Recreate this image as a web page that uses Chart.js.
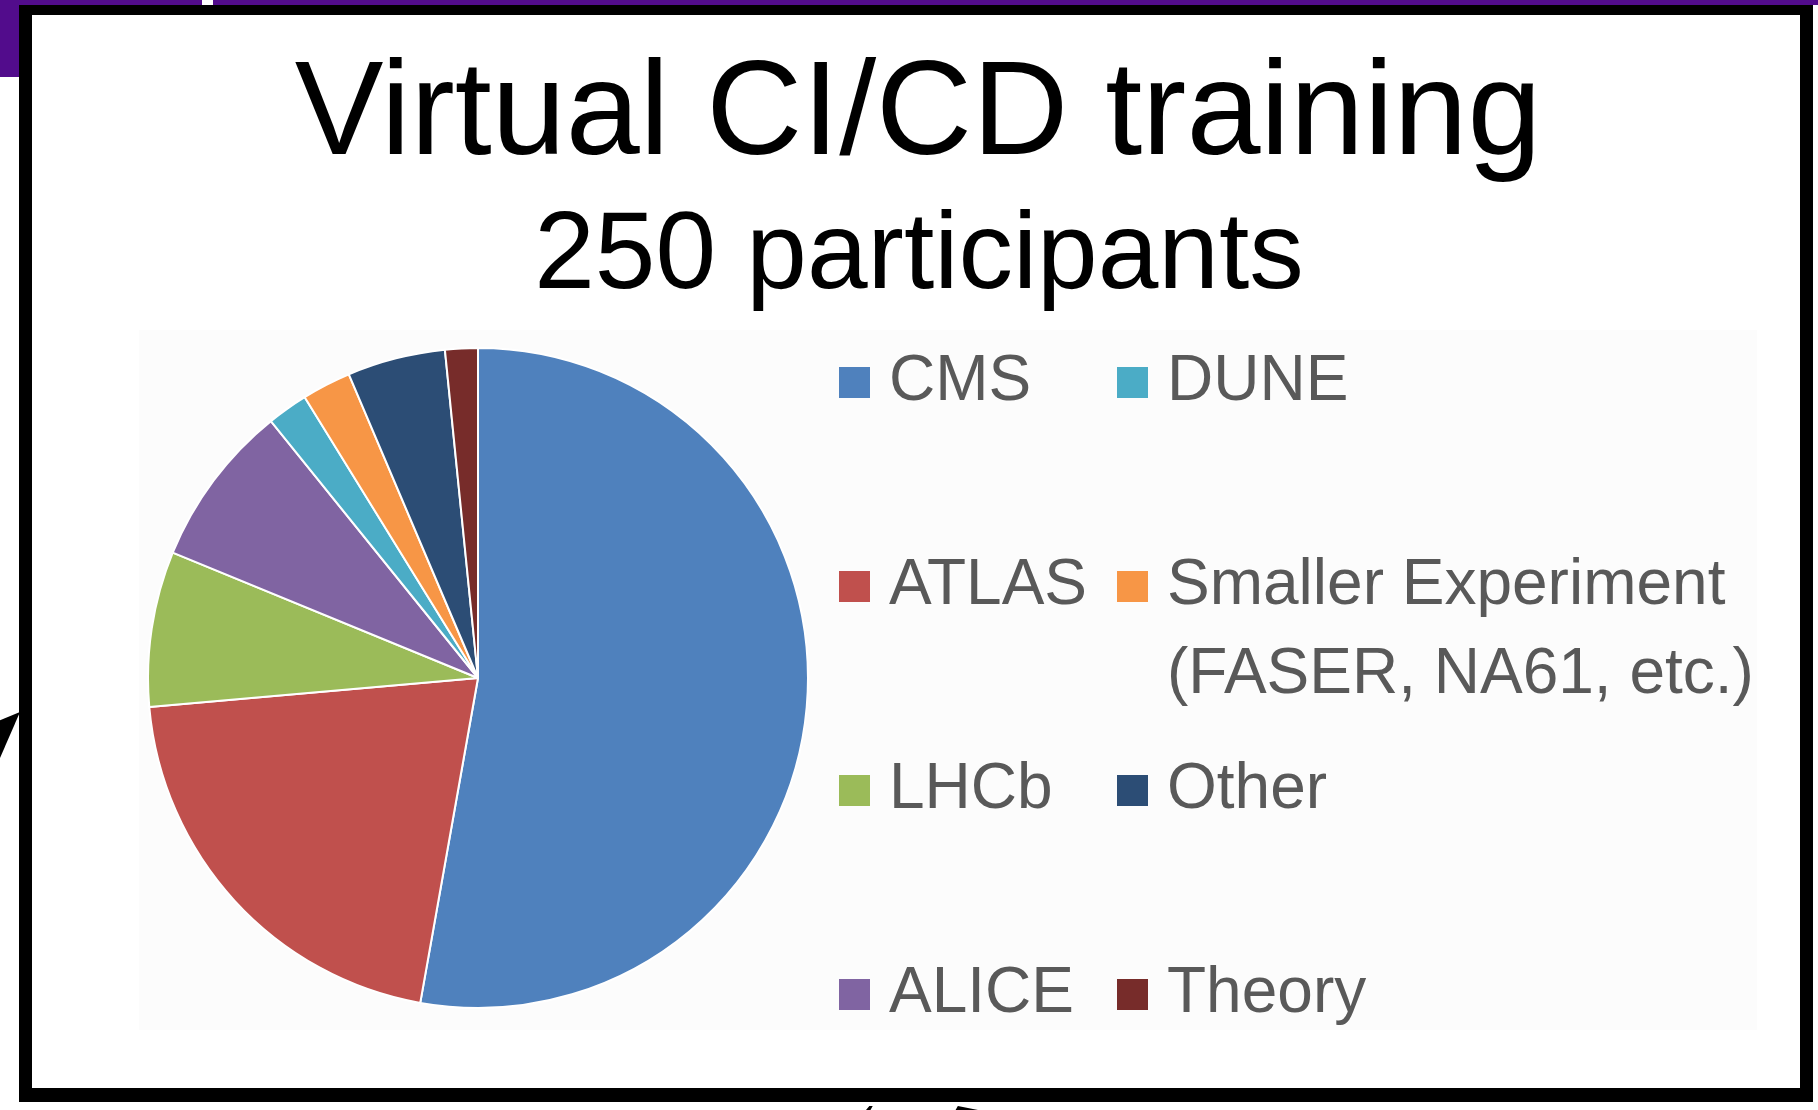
<!DOCTYPE html>
<html>
<head>
<meta charset="utf-8">
<script src="https://cdn.jsdelivr.net/npm/chart.js@4.4.1/dist/chart.umd.min.js"></script>
<style>
    html, body { margin: 0; padding: 0; }
    body {
        width: 1818px;
        height: 1110px;
        position: relative;
        overflow: hidden;
        background: #fff;
        font-family: 'Liberation Sans', Arial, sans-serif;
    }
    .purpleTop { position: absolute; left: 0; top: 0; width: 1818px; height: 5px; background: #520c8c; }
    .purpleGap { position: absolute; left: 202px; top: 0; width: 11px; height: 5px; background: #fff; }
    .purpleSide { position: absolute; left: 0; top: 0; width: 20px; height: 77px; background: #520c8c; }
    .frame {
        position: absolute;
        left: 19px; top: 5px;
        width: 1768px; height: 1073px;
        border-style: solid;
        border-color: #000;
        border-width: 10px 13px 14px 13px;
        background: #fff;
    }
    .arrowLeft {
        position: absolute; left: 0; top: 712px; width: 20px; height: 46px; background: #000;
        clip-path: polygon(0 18%, 100% 0, 0 100%);
    }
    .arrowBottom {
        position: absolute; left: 866px; top: 1106px; width: 112px; height: 4px; background: #000;
        clip-path: polygon(0 100%, 3% 0, 6% 0, 4% 100%, 80% 100%, 82% 0, 100% 100%);
    }
    .plotBg { position: absolute; left: 139px; top: 330px; width: 1618px; height: 700px; background: #fcfcfc; }
    .title, .subtitle {
        position: absolute; left: 20px; width: 1796px;
        text-align: center; color: #000; line-height: 1; white-space: nowrap;
    }
    .title { top: 42px; font-size: 133px; }
    .subtitle { top: 196px; font-size: 109px; left: 21px; }
    #chartBox { position: absolute; left: 147px; top: 347px; width: 662px; height: 662px; }
    #legend {
        position: absolute; left: 839px; top: 334px;
        display: grid;
        grid-template-columns: 278px 460px;
        grid-template-rows: repeat(4, 204px);
        grid-auto-flow: column;
    }
    .item { position: relative; padding-left: 50px; }
    .item .box { position: absolute; left: 0; top: 33px; width: 31px; height: 31px; }
    .item .txt {
        font-size: 64px; line-height: 89px; color: #595959; white-space: pre;
    }
</style>
</head>
<body>
<div class="purpleTop"></div>
<div class="purpleGap"></div>
<div class="purpleSide"></div>
<div class="frame"></div>
<div class="arrowLeft"></div>
<div class="arrowBottom"></div>
<div class="plotBg"></div>
<div class="title">Virtual CI/CD training</div>
<div class="subtitle">250 participants</div>
<div id="chartBox"><canvas id="pie" width="662" height="662"></canvas></div>
<div id="legend"></div>

<script>
// participants per group (250 total), clockwise from 12 o'clock
const groups = ['CMS', 'ATLAS', 'LHCb', 'ALICE', 'DUNE', ['Smaller Experiment', '(FASER, NA61, etc.)'], 'Other', 'Theory'];
const participants = [132, 52, 19, 20, 5, 6, 12, 4];
const colors = ['#4f81bd', '#c0504d', '#9bbb59', '#8064a2', '#4bacc6', '#f79646', '#2c4d75', '#772c2a'];

const ctx = document.getElementById('pie').getContext('2d');

const myChart = new Chart(ctx, {
    type: 'pie',
    data: {
        labels: groups,
        datasets: [{
            label: 'Participants',
            data: participants,
            backgroundColor: colors,
            borderColor: '#ffffff',
            borderWidth: 2,
            hoverOffset: 0
        }]
    },
    options: {
        responsive: false,
        animation: false,
        layout: { padding: 0 },
        plugins: {
            legend: { display: false },
            tooltip: { enabled: true }
        }
    }
});

// legend built from the chart's own labels and colours
const legendEl = document.getElementById('legend');
myChart.data.labels.forEach((label, i) => {
    const item = document.createElement('div');
    item.className = 'item';
    const box = document.createElement('span');
    box.className = 'box';
    box.style.background = myChart.data.datasets[0].backgroundColor[i];
    const txt = document.createElement('div');
    txt.className = 'txt';
    txt.textContent = Array.isArray(label) ? label.join('\n') : label;
    item.appendChild(box);
    item.appendChild(txt);
    legendEl.appendChild(item);
});
</script>
</body>
</html>
